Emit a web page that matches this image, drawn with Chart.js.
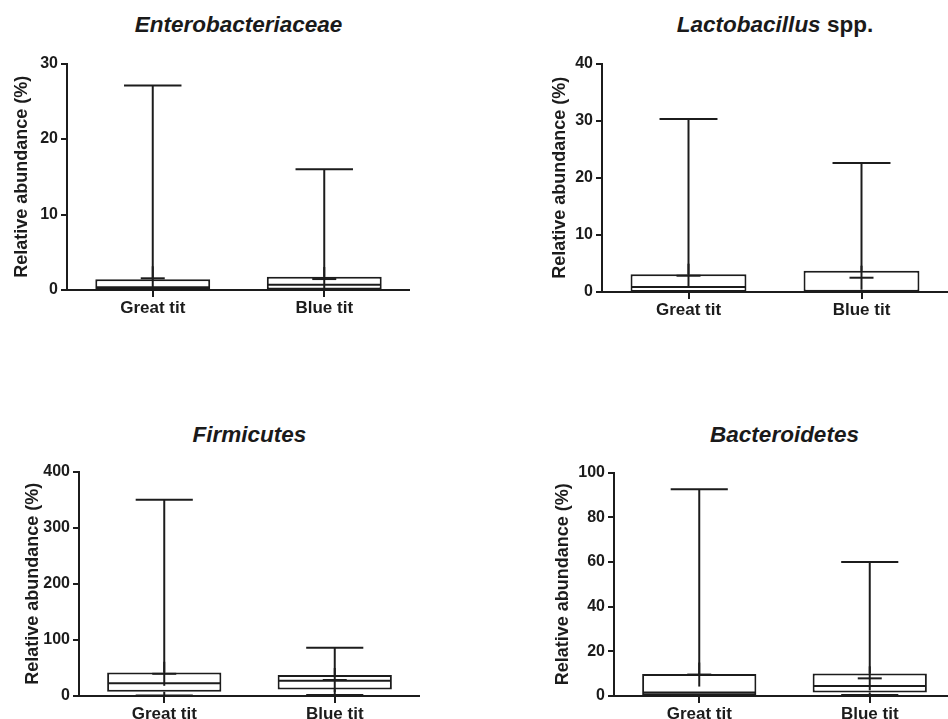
<!DOCTYPE html>
<html>
<head>
<meta charset="utf-8">
<script src="https://cdn.jsdelivr.net/npm/chart.js@4.4.1/dist/chart.umd.min.js"></script>
<style>
  html, body { margin: 0; padding: 0; background: #fff; overflow: hidden; }
  #wrap { position: relative; width: 948px; height: 719px; overflow: hidden; background: #fff; }
  #wrap canvas { position: absolute; }
  .ttl { position: absolute; text-align: center; white-space: nowrap;
         font: bold 22.5px "Liberation Sans", Arial, sans-serif; color: #1a1a1a; line-height: 26px; }
</style>
</head>
<body>
<div id="wrap"></div>
<script>
// ---- data -------------------------------------------------------------
const groups = ['Great tit', 'Blue tit'];

// Enterobacteriaceae
const enteroMin    = [0, 0];
const enteroQ1     = [0.02, 0.05];
const enteroMedian = [0.35, 0.7];
const enteroQ3     = [1.42, 1.75];
const enteroMax    = [27.1, 16.0];
const enteroMean   = [1.55, 1.45];
const enteroTicks  = [0, 10, 20, 30];

// Lactobacillus spp.
const lactoMin    = [0, 0];
const lactoQ1     = [0.02, 0.05];
const lactoMedian = [0.88, 0.12];
const lactoQ3     = [3.1, 3.7];
const lactoMax    = [30.3, 22.6];
const lactoMean   = [2.85, 2.5];
const lactoTicks  = [0, 10, 20, 30, 40];

// Firmicutes
const firmMin    = [1, 2];
const firmQ1     = [7.6, 11.8];
const firmMedian = [22.6, 27];
const firmQ3     = [42, 37.3];
const firmMax    = [350, 86];
const firmMean   = [39.6, 28.5];
const firmTicks  = [0, 100, 200, 300, 400];

// Bacteroidetes
const bactMin    = [0, 0.5];
const bactQ1     = [0.3, 1.6];
const bactMedian = [1.6, 4.5];
const bactQ3     = [9.8, 10.1];
const bactMax    = [92.6, 60];
const bactMean   = [9.6, 7.9];
const bactTicks  = [0, 20, 40, 60, 80, 100];

// ---- panels -------------------------------------------------------------
const INK = '#1c1c1c';
const FONT = '"Liberation Sans", Arial, sans-serif';

const panels = [
  { title: '<i>Enterobacteriaceae</i>', titleY: 12,
    stats: { min: enteroMin, q1: enteroQ1, med: enteroMedian, q3: enteroQ3, max: enteroMax, mean: enteroMean },
    ticks: enteroTicks, area: { l: 67, r: 410, t: 62.7, b: 289.3 }, axisW: 60 },
  { title: '<i>Lactobacillus</i> spp.', titleY: 12,
    stats: { min: lactoMin, q1: lactoQ1, med: lactoMedian, q3: lactoQ3, max: lactoMax, mean: lactoMean },
    ticks: lactoTicks, area: { l: 602, r: 948, t: 62.7, b: 291.5 }, axisW: 57 },
  { title: '<i>Firmicutes</i>', titleY: 422,
    stats: { min: firmMin, q1: firmQ1, med: firmMedian, q3: firmQ3, max: firmMax, mean: firmMean },
    ticks: firmTicks, area: { l: 79, r: 420, t: 471, b: 696 }, axisW: 61 },
  { title: '<i>Bacteroidetes</i>', titleY: 422,
    stats: { min: bactMin, q1: bactQ1, med: bactMedian, q3: bactQ3, max: bactMax, mean: bactMean },
    ticks: bactTicks, area: { l: 614, r: 955, t: 471.7, b: 696 }, axisW: 66 }
];

// whiskers, caps, median line and the "+" mean marker on top of each box
function boxMarks(stats) {
  return {
    id: 'boxMarks',
    afterDatasetsDraw(chart) {
      const { ctx, scales: { y } } = chart;
      const meta = chart.getDatasetMeta(0);
      const seg = (x1, y1, x2, y2) => { ctx.beginPath(); ctx.moveTo(x1, y1); ctx.lineTo(x2, y2); ctx.stroke(); };
      ctx.save();
      ctx.strokeStyle = INK;
      ctx.lineWidth = 2;
      meta.data.forEach((bar, i) => {
        const cx = bar.x;
        const half = bar.width / 2;
        const yMin = y.getPixelForValue(stats.min[i]);
        const yQ1 = y.getPixelForValue(stats.q1[i]);
        const yMed = y.getPixelForValue(stats.med[i]);
        const yQ3 = y.getPixelForValue(stats.q3[i]);
        const yMax = y.getPixelForValue(stats.max[i]);
        const yMean = y.getPixelForValue(stats.mean[i]);
        seg(cx, yQ3, cx, yMax);
        seg(cx - half / 2, yMax, cx + half / 2, yMax);
        seg(cx, yQ1, cx, yMin);
        seg(cx - half / 2, yMin, cx + half / 2, yMin);
        seg(cx - half + 1, yMed, cx + half - 1, yMed);
        seg(cx - 12, yMean, cx + 12, yMean);
        seg(cx, yMean - 12, cx, yMean + 12);
      });
      ctx.restore();
    }
  };
}

const wrap = document.getElementById('wrap');
const PAD_TOP = 12;
const X_AXIS_H = 32;

panels.forEach(p => {
  const a = p.area;
  const left = a.l - p.axisW;
  const top = a.t - PAD_TOP;
  const width = Math.round(a.r - left);
  const height = Math.round(a.b - top + X_AXIS_H);

  const t = document.createElement('div');
  t.className = 'ttl';
  t.style.left = a.l + 'px';
  t.style.width = (a.r - a.l) + 'px';
  t.style.top = p.titleY + 'px';
  t.innerHTML = p.title;
  wrap.appendChild(t);

  const c = document.createElement('canvas');
  c.width = width;
  c.height = height;
  c.style.left = left + 'px';
  c.style.top = top + 'px';
  c.style.width = width + 'px';
  c.style.height = height + 'px';
  wrap.appendChild(c);

  const tickVals = p.ticks;
  new Chart(c.getContext('2d'), {
    type: 'bar',
    data: {
      labels: groups,
      datasets: [{
        data: groups.map((g, i) => [p.stats.q1[i], p.stats.q3[i]]),
        backgroundColor: '#ffffff',
        borderColor: INK,
        borderWidth: 2,
        borderSkipped: false,
        barPercentage: 0.67,
        categoryPercentage: 1
      }]
    },
    options: {
      responsive: false,
      animation: false,
      devicePixelRatio: 1,
      layout: { padding: { top: PAD_TOP, left: 0, right: 0, bottom: 0 } },
      plugins: { legend: { display: false }, tooltip: { enabled: false }, title: { display: false } },
      scales: {
        x: {
          type: 'category',
          offset: true,
          grid: { display: true, drawOnChartArea: false, drawTicks: true, tickLength: 7, offset: false, color: INK, lineWidth: 2 },
          border: { display: true, color: INK, width: 2 },
          ticks: { color: INK, font: { family: FONT, size: 17, weight: 'bold' }, padding: 1, maxRotation: 0, autoSkip: false },
          afterFit(s) { s.height = X_AXIS_H; }
        },
        y: {
          min: tickVals[0],
          max: tickVals[tickVals.length - 1],
          afterBuildTicks(s) { s.ticks = tickVals.map(v => ({ value: v })); },
          grid: { display: true, drawOnChartArea: false, drawTicks: true, tickLength: 6, color: INK, lineWidth: 2 },
          border: { display: true, color: INK, width: 2 },
          ticks: { color: INK, font: { family: FONT, size: 16, weight: 'bold' }, padding: 3, autoSkip: false },
          title: { display: true, text: 'Relative abundance (%)', color: INK,
                   font: { family: FONT, size: 18, weight: 'bold' }, padding: { top: 4, bottom: 4 } },
          afterFit(s) { s.width = p.axisW; }
        }
      }
    },
    plugins: [boxMarks(p.stats)]
  });
});
</script>
</body>
</html>
